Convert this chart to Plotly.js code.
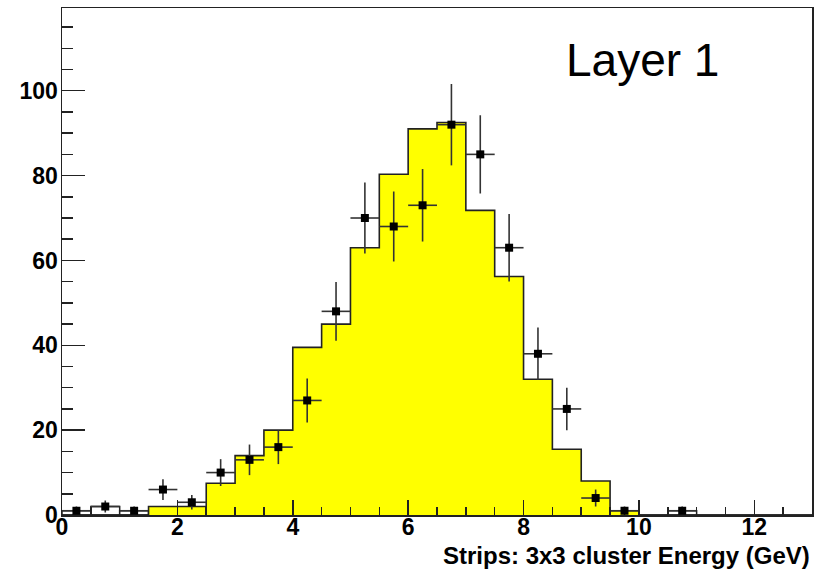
<!DOCTYPE html>
<html>
<head>
<meta charset="utf-8">
<script src="https://cdn.plot.ly/plotly-3.0.1.min.js"></script>
<style>html,body{margin:0;padding:0;background:#fff;}#chart{width:822px;height:572px;}</style>
</head>
<body>
<div id="chart"></div>
<script>
// Bin edges (GeV), bin width 0.5
var binEdges = [0,0.5,1,1.5,2,2.5,3,3.5,4,4.5,5,5.5,6,6.5,7,7.5,8,8.5,9,9.5,10,10.5,11,11.5,12,12.5,13];
// Bin centers for each of the 26 bins
var binCenters = [0.25,0.75,1.25,1.75,2.25,2.75,3.25,3.75,4.25,4.75,5.25,5.75,6.25,6.75,7.25,7.75,8.25,8.75,9.25,9.75,10.25,10.75,11.25,11.75,12.25,12.75];
// Yellow-filled histogram contents (simulation)
var filledCounts = [0,0,0,2,2,7.5,14,20,39.5,45,63,80.3,91,92.5,71.8,56.2,32,15.5,8,1,0,0,0,0,0,0];
// Hollow (unfilled) histogram bins
var hollowCounts = [1,2,1,0,0,0,0,0,0,0,0,0,0,0,0,0,0,0,0,0,0,1,0,0,0,0];
// Data points (counts per bin) with Poisson errors
var dataX = [0.25,0.75,1.25,1.75,2.25,2.75,3.25,3.75,4.25,4.75,5.25,5.75,6.25,6.75,7.25,7.75,8.25,8.75,9.25,9.75,10.75];
var dataY = [1,2,1,6,3,10,13,16,27,48,70,68,73,92,85,63,38,25,4,1,1];
var halfBin = 0.25;

var xTickVals = [0,2,4,6,8,10,12];
var yTickVals = [0,20,40,60,80,100];

// step arrays: repeat last value at final edge
var stepY = filledCounts.concat([filledCounts[filledCounts.length-1]]);

var traces = [
  {
    type: 'bar', x: binCenters, y: hollowCounts, width: 0.5,
    marker: {color: '#ffffff', line: {color: '#222222', width: 1.5}},
    hoverinfo: 'skip', showlegend: false
  },
  {
    type: 'scatter', mode: 'lines', x: binEdges, y: stepY,
    line: {shape: 'hv', width: 0, color: 'rgba(0,0,0,0)'},
    fill: 'tozeroy', fillcolor: '#ffff00',
    hoverinfo: 'skip', showlegend: false
  },
  {
    type: 'scatter', mode: 'lines', x: binEdges, y: stepY,
    line: {shape: 'hv', width: 1.6, color: '#222222'},
    showlegend: false
  },
  {
    type: 'scatter', mode: 'markers', x: dataX, y: dataY,
    marker: {symbol: 'square', size: 8, color: '#000000'},
    error_y: {type: 'sqrt', visible: true, color: '#333333', thickness: 1.6, width: 0},
    error_x: {type: 'constant', value: halfBin, visible: true, color: '#333333', thickness: 1.6, width: 0},
    showlegend: false
  }
];

var tickFont = {family: 'Liberation Sans, Arial, sans-serif', size: 23, color: '#000', weight: 'bold'};

var layout = {
  width: 822, height: 572,
  margin: {l: 62, r: 10, t: 8, b: 57, pad: 0},
  paper_bgcolor: '#ffffff', plot_bgcolor: '#ffffff',
  showlegend: false,
  bargap: 0,
  xaxis: {
    range: [0, 13], showgrid: false, zeroline: false,
    showline: true, linecolor: '#222', linewidth: 1.5, mirror: true,
    ticks: 'inside', ticklen: 15, tickwidth: 1.5, tickcolor: '#222',
    tickvals: xTickVals, ticktext: xTickVals.map(String),
    tickfont: tickFont, ticklabelstandoff: -9,
    minor: {ticks: 'inside', dtick: 0.5, tick0: 0, ticklen: 8, tickwidth: 1.5, tickcolor: '#222', showgrid: false}
  },
  yaxis: {
    range: [0, 119.5], showgrid: false, zeroline: false,
    showline: true, linecolor: '#222', linewidth: 1.5, mirror: true,
    ticks: 'inside', ticklen: 23, tickwidth: 1.5, tickcolor: '#222',
    tickvals: yTickVals, ticktext: yTickVals.map(String),
    tickfont: tickFont, ticklabelstandoff: -2,
    minor: {ticks: 'inside', dtick: 5, tick0: 0, ticklen: 11, tickwidth: 1.5, tickcolor: '#222', showgrid: false}
  },
  annotations: [
    {
      xref: 'paper', yref: 'paper', x: 1, y: 0, xanchor: 'right', yanchor: 'middle',
      yshift: -40, xshift: 0, showarrow: false,
      text: 'Strips: 3x3 cluster Energy (GeV)',
      font: {family: 'Liberation Sans, Arial, sans-serif', size: 24, color: '#000', weight: 'bold'}
    },
    {
      xref: 'paper', yref: 'paper', x: 0.669, y: 0.897, xanchor: 'left', yanchor: 'middle',
      showarrow: false, text: 'Layer 1',
      font: {family: 'Liberation Sans, Arial, sans-serif', size: 46, color: '#000'}
    }
  ]
};

Plotly.newPlot('chart', traces, layout, {displayModeBar: false, staticPlot: true});
</script>
</body>
</html>
